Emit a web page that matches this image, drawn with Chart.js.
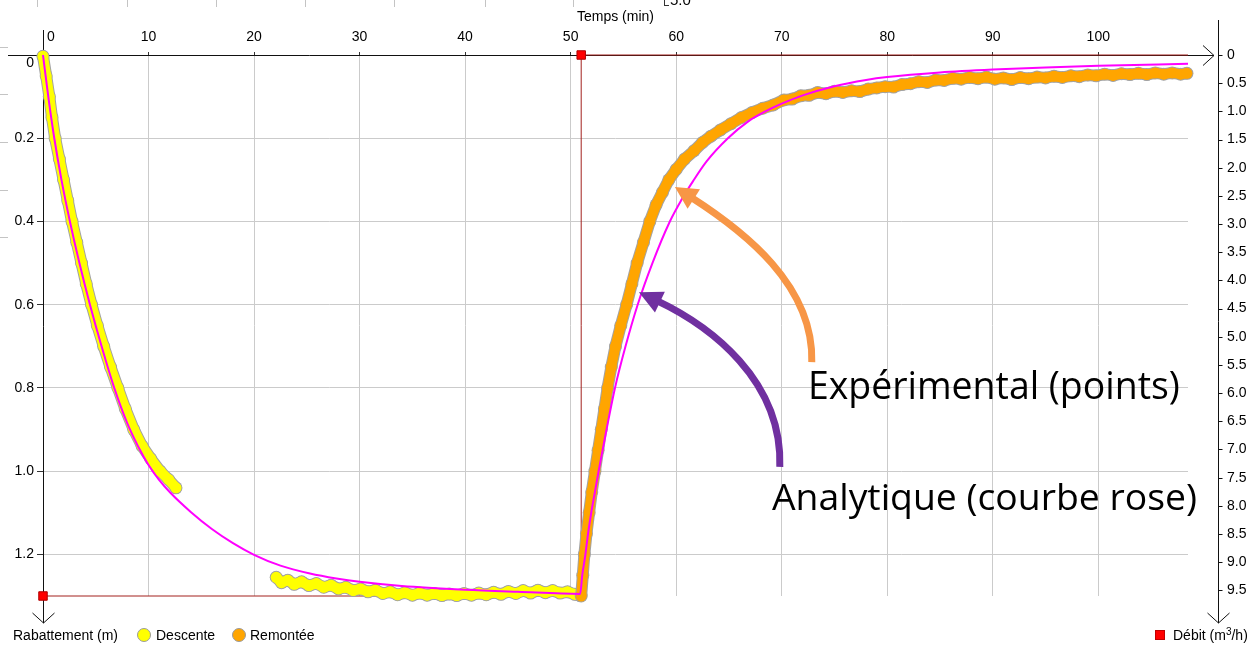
<!DOCTYPE html>
<html><head><meta charset="utf-8">
<script src="https://cdn.jsdelivr.net/npm/chart.js@4.4.1/dist/chart.umd.min.js"></script>
<style>
html,body{margin:0;padding:0;background:#fff;}
#wrap{position:relative;width:1255px;height:648px;overflow:hidden;font-family:"Liberation Sans",Arial,sans-serif;background:#fff;}
canvas{position:absolute;left:0;top:0;}
.lbl{position:absolute;font-size:14px;line-height:16px;color:#000;white-space:nowrap;}
.lbl sup{font-size:10px;line-height:0;vertical-align:5px;}
.dot{position:absolute;width:14px;height:14px;border-radius:50%;border:1px solid #9a9a9a;box-sizing:border-box;}
.sq{position:absolute;width:10px;height:10px;background:#ff0000;border:1px solid #c00000;box-sizing:border-box;}
.big{position:absolute;font-family:"Open Sans","Noto Sans",sans-serif;color:#000;white-space:nowrap;line-height:1;}
.art{position:absolute;background:#c4c4c4;}
</style></head><body>
<div id="wrap">
<canvas id="c" width="1255" height="648"></canvas>
<div class="art" style="left:37px;top:0;width:1px;height:7px"></div>
<div class="art" style="left:127px;top:0;width:1px;height:7px"></div>
<div class="art" style="left:216px;top:0;width:1px;height:7px"></div>
<div class="art" style="left:305px;top:0;width:1px;height:7px"></div>
<div class="art" style="left:394px;top:0;width:1px;height:7px"></div>
<div class="art" style="left:485px;top:0;width:1px;height:7px"></div>
<div class="art" style="left:573px;top:0;width:1px;height:7px"></div>
<div class="art" style="left:0;top:47px;width:8px;height:1px"></div>
<div class="art" style="left:0;top:94px;width:8px;height:1px"></div>
<div class="art" style="left:0;top:142px;width:8px;height:1px"></div>
<div class="art" style="left:0;top:190px;width:8px;height:1px"></div>
<div class="art" style="left:0;top:237px;width:8px;height:1px"></div>
<div style="position:absolute;left:664px;top:0;width:1px;height:6px;background:#333"></div>
<div style="position:absolute;left:664px;top:5px;width:5px;height:1px;background:#333"></div>
<div class="lbl" style="left:670px;top:-8px;font-size:15px;">5.0</div>

<div class="lbl" style="left:13px;top:627px">Rabattement (m)</div>
<div class="dot" style="left:137px;top:628px;background:#FFFF00"></div>
<div class="lbl" style="left:156px;top:627px">Descente</div>
<div class="dot" style="left:232px;top:628px;background:#FFA500"></div>
<div class="lbl" style="left:250px;top:627px">Remontée</div>
<div class="sq" style="left:1155px;top:630px"></div>
<div class="lbl" style="left:1173px;top:627px">Débit (m<sup>3</sup>/h)</div>

<div class="big" id="t1"><span class="t">Expérimental (points)</span><span class="b" style="display:inline-block;width:0;height:0"></span></div>
<div class="big" id="t2"><span class="t">Analytique (courbe rose)</span><span class="b" style="display:inline-block;width:0;height:0"></span></div>
</div>
<script>
// ---------- data (time in min, drawdown in m, flow in m3/h) ----------
const xTicks = [0,10,20,30,40,50,60,70,80,90,100];
const yTicks = [0,0.2,0.4,0.6,0.8,1.0,1.2];
const y2Ticks = [0,0.5,1.0,1.5,2.0,2.5,3.0,3.5,4.0,4.5,5.0,5.5,6.0,6.5,7.0,7.5,8.0,8.5,9.0,9.5];

const descente1 = [[0,0.003],[0.3,0.05],[0.6,0.1],[0.85,0.15],[1.15,0.2],[1.55,0.25],[1.95,0.3],[2.35,0.35],[2.75,0.4],[3.2,0.45],[3.65,0.5],[4.1,0.55],[4.6,0.6],[5.15,0.65],[5.75,0.7],[6.4,0.75],[7.1,0.8],[7.8,0.85],[8.6,0.9],[9.4,0.94],[10.2,0.97],[11.1,1.0],[11.9,1.02],[12.6,1.04]];
const descente2 = [[22.1,1.255],[22.6,1.268],[23.2,1.262],[23.8,1.272],[24.5,1.266],[25.2,1.275],[25.9,1.27],[26.6,1.279],[27.3,1.274],[28.0,1.283],[28.7,1.279],[29.4,1.287],[30.1,1.283],[30.8,1.29],[31.5,1.286],[32.2,1.294],[32.9,1.29],[33.6,1.297],[34.3,1.292],[35.0,1.298],[35.7,1.293],[36.4,1.298],[37.1,1.294],[37.8,1.299],[38.5,1.295],[39.2,1.299],[39.9,1.294],[40.6,1.298],[41.3,1.293],[42.0,1.297],[42.7,1.291],[43.4,1.296],[44.1,1.289],[44.8,1.294],[45.5,1.287],[46.2,1.293],[46.9,1.286],[47.6,1.292],[48.3,1.287],[49.0,1.293],[49.7,1.29],[50.4,1.296],[50.9,1.299]];
const remontee = [[51.0,1.30],[51.15,1.25],[51.3,1.2],[51.5,1.15],[51.75,1.1],[52.0,1.05],[52.3,1.0],[52.6,0.95],[52.9,0.9],[53.2,0.85],[53.5,0.8],[53.85,0.75],[54.25,0.7],[54.75,0.65],[55.3,0.6],[55.8,0.55],[56.3,0.5],[56.9,0.45],[57.5,0.4],[58.1,0.36],[58.7,0.33],[59.3,0.3],[60.0,0.275],[60.8,0.25],[61.7,0.23],[62.5,0.21],[63.3,0.195],[64.2,0.18],[65.2,0.165],[66.2,0.15],[67.2,0.138],[68.2,0.128],[69.2,0.12],[70.2,0.108],[71.0,0.106],[71.8,0.098],[72.6,0.097],[73.4,0.09],[74.2,0.093],[75.0,0.087],[75.8,0.09],[76.6,0.086],[77.4,0.088],[78.2,0.082],[79.0,0.079],[79.8,0.076],[80.6,0.077],[81.4,0.071],[82.2,0.069],[83.0,0.064],[83.8,0.066],[84.6,0.06],[85.4,0.061],[86.2,0.056],[87.0,0.058],[87.8,0.054],[88.6,0.057],[89.4,0.053],[90.2,0.058],[91.0,0.055],[91.8,0.059],[92.6,0.054],[93.4,0.057],[94.2,0.053],[95.0,0.055],[95.8,0.051],[96.6,0.054],[97.4,0.05],[98.2,0.052],[99.0,0.048],[99.8,0.05],[100.6,0.046],[101.4,0.049],[102.2,0.045],[103.0,0.047],[103.8,0.044],[104.6,0.047],[105.4,0.043],[106.2,0.046],[107.0,0.043],[107.8,0.046],[108.4,0.044]];
const analytique = [[0,0],[0.5,0.1],[1.07,0.2],[1.75,0.3],[2.55,0.4],[3.45,0.5],[4.45,0.6],[5.55,0.7],[6.75,0.8],[8,0.886],[9,0.94],[10,0.985],[11,1.021],[12.07,1.052],[14,1.098],[16,1.139],[18,1.173],[20,1.201],[22.5,1.227],[25.3,1.246],[27.8,1.258],[30,1.266],[34,1.276],[40,1.285],[45,1.29],[50.9,1.295],[51.1,1.25],[51.4,1.2],[51.65,1.15],[51.95,1.1],[52.3,1.05],[52.65,1.0],[53.4,0.9],[54.2,0.8],[55.2,0.7],[56.35,0.6],[57.75,0.5],[59.4,0.4],[60.5,0.348],[61.6,0.303],[62.9,0.255],[64.9,0.2],[66.8,0.16],[68.5,0.135],[70,0.117],[72,0.097],[75,0.075],[78,0.06],[80,0.053],[85,0.042],[90,0.035],[95,0.03],[100,0.026],[108.5,0.021]];
const debitT = [0, 51, 108.5];
const debitQ = [9.6, 0, 0];

// annotation arrows, in data coordinates (t, s): bezier tail, ctrl1, ctrl2, head base; then tip
const arrowNotes = [
  {color:'#F79646', curve:[[72.85,0.738],[73.06,0.553],[66.41,0.423],[61.67,0.346]], tip:[59.88,0.317]},
  {color:'#7030A0', curve:[[69.82,0.99],[70.1,0.781],[63.2,0.651],[58.46,0.594]], tip:[56.47,0.570]}
];

// ---------- build ----------
const toXY = a => a.map(p => ({x:p[0], y:p[1]}));
const descData = [...toXY(descente1), {x:17, y:null}, ...toXY(descente2)];
const remData = toXY(remontee);
const anaData = toXY(analytique);
const debitData = debitT.map((t,i) => ({x:t, y:debitQ[i]}));

const OUTLINE = '#a3a3a3';
function band(label, data, color, order) {
  return {label, data, borderColor:color, backgroundColor:color, pointBackgroundColor:color,
    borderWidth:10, pointRadius:5.5, pointBorderWidth:0, pointHoverRadius:5.5,
    borderCapStyle:'round', borderJoinStyle:'round', spanGaps:false, clip:false, order, fill:false};
}
function bandOutline(data, order) {
  return {label:'_o', data, borderColor:OUTLINE, backgroundColor:OUTLINE, pointBackgroundColor:OUTLINE,
    borderWidth:12, pointRadius:6.5, pointBorderWidth:0, pointHoverRadius:6.5,
    borderCapStyle:'round', borderJoinStyle:'round', spanGaps:false, clip:false, order, fill:false};
}

const axesPlugin = {
  id:'axesPlugin',
  beforeDatasetsDraw(chart) {
    const {ctx, chartArea:ca, scales:{x, y, y2}} = chart;
    const x0 = Math.round(x.getPixelForValue(0)) + 0.5;
    const yTop = Math.round(y.getPixelForValue(0)) + 0.5;
    const xr = Math.round(ca.right + 30) + 0.5;
    const bottomTip = ca.bottom + 27;
    const rightTip = ca.right + 26;
    ctx.save();
    ctx.strokeStyle = '#111';
    ctx.lineWidth = 1;
    ctx.beginPath();
    ctx.moveTo(8, yTop); ctx.lineTo(rightTip, yTop);
    ctx.moveTo(rightTip - 11, yTop - 10); ctx.lineTo(rightTip, yTop); ctx.lineTo(rightTip - 11, yTop + 10);
    ctx.moveTo(x0, 30); ctx.lineTo(x0, bottomTip);
    ctx.moveTo(x0 - 11, bottomTip - 10); ctx.lineTo(x0, bottomTip); ctx.lineTo(x0 + 11, bottomTip - 10);
    ctx.moveTo(xr, 20); ctx.lineTo(xr, bottomTip);
    ctx.moveTo(xr - 11, bottomTip - 10); ctx.lineTo(xr, bottomTip); ctx.lineTo(xr + 11, bottomTip - 10);
    y2Ticks.forEach(v => {
      const py = Math.round(y2.getPixelForValue(v)) + 0.5;
      ctx.moveTo(xr, py); ctx.lineTo(xr + 4, py);
    });
    ctx.stroke();
    ctx.restore();
  }
};

const arrowPlugin = {
  id:'arrowPlugin',
  afterDatasetsDraw(chart) {
    const {ctx, scales:{x, y}} = chart;
    const P = p => [x.getPixelForValue(p[0]), y.getPixelForValue(p[1])];
    ctx.save();
    arrowNotes.forEach(a => {
      const c = a.curve.map(P);
      const tip = P(a.tip);
      ctx.strokeStyle = a.color; ctx.fillStyle = a.color;
      ctx.lineWidth = 7; ctx.lineCap = 'butt';
      ctx.beginPath();
      ctx.moveTo(c[0][0], c[0][1]);
      ctx.bezierCurveTo(c[1][0], c[1][1], c[2][0], c[2][1], c[3][0] + (c[3][0]-tip[0])*-0.15, c[3][1] + (c[3][1]-tip[1])*-0.15);
      ctx.stroke();
      const dx = tip[0] - c[3][0], dy = tip[1] - c[3][1];
      const len = Math.hypot(dx, dy);
      const nx = -dy/len, ny = dx/len, hw = 11.5;
      ctx.beginPath();
      ctx.moveTo(tip[0], tip[1]);
      ctx.lineTo(c[3][0] + nx*hw, c[3][1] + ny*hw);
      ctx.lineTo(c[3][0] - nx*hw, c[3][1] - ny*hw);
      ctx.closePath();
      ctx.fill();
    });
    ctx.restore();
  }
};

const FONT = {family:'"Liberation Sans", Arial, sans-serif', size:14};
const GRID = '#cbcbcb';

new Chart(document.getElementById('c'), {
  type:'line',
  data:{datasets:[
    {label:'Analytique', data:anaData, borderColor:'#FF00FF', borderWidth:2, pointRadius:0, pointHoverRadius:0,
      cubicInterpolationMode:'monotone', clip:false, order:1, fill:false},
    band('Remontée', remData, '#FFA500', 2),
    bandOutline(remData, 3),
    band('Descente', descData, '#FFFF00', 4),
    bandOutline(descData, 5),
    {label:'Débit (m³/h)', data:debitData, yAxisID:'y2', stepped:'before', borderColor:'#A3201D', borderWidth:1,
      pointStyle:'rect', pointRadius:[6,6,0], pointHoverRadius:[6,6,0], pointBackgroundColor:'#FF0000',
      pointBorderColor:'#B00000', pointBorderWidth:1, clip:false, order:6, fill:false}
  ]},
  options:{
    responsive:false, animation:false, events:[],
    layout:{padding:{left:0, right:0, top:0, bottom:52}},
    plugins:{legend:{display:false}, tooltip:{enabled:false}},
    scales:{
      x:{type:'linear', position:'top', min:0, max:108.5,
        grid:{color:GRID, lineWidth:1, tickLength:3, tickColor:'#333'},
        border:{display:false},
        ticks:{font:FONT, color:'#000', padding:6, maxRotation:0, autoSkip:false,
          callback:v => v === 0 ? '    0' : String(v)},
        title:{display:true, text:'Temps (min)', font:FONT, color:'#000', padding:{top:9, bottom:0}},
        afterBuildTicks:s => { s.ticks = xTicks.map(v => ({value:v})); },
        afterFit:s => { s.height = 55; }
      },
      y:{type:'linear', position:'left', reverse:true, min:0, max:1.3,
        grid:{color:GRID, lineWidth:1, tickLength:6, tickColor:'#333'},
        border:{display:false},
        ticks:{font:FONT, color:'#000', padding:3, autoSkip:false,
          callback:v => v === 0 ? ['', '0'] : v.toFixed(1)},
        afterBuildTicks:s => { s.ticks = yTicks.map(v => ({value:v})); },
        afterFit:s => { s.width = 43; }
      },
      y2:{type:'linear', position:'right', reverse:true, min:0, max:9.6,
        grid:{display:false, drawTicks:false, drawOnChartArea:false},
        border:{display:false},
        ticks:{font:{...FONT, lineHeight:1}, color:'#000', padding:39, autoSkip:false,
          callback:v => v === 0 ? '0' : v.toFixed(1)},
        afterBuildTicks:s => { s.ticks = y2Ticks.map(v => ({value:v})); },
        afterFit:s => { s.width = 67; }
      }
    }
  },
  plugins:[axesPlugin, arrowPlugin]
});

function fitText(id, left, baseline, width) {
  const el = document.getElementById(id);
  el.style.left = left + 'px'; el.style.top = '0px';
  el.style.fontSize = '100px';
  const w = el.querySelector('.t').getBoundingClientRect().width;
  el.style.fontSize = (100 * width / w) + 'px';
  const off = el.querySelector('.b').getBoundingClientRect().top - el.getBoundingClientRect().top;
  el.style.top = (baseline - off) + 'px';
}
function placeAll() {
  fitText('t1', 808, 399, 372);
  fitText('t2', 772, 510, 425);
}
placeAll();
if (document.fonts && document.fonts.ready) document.fonts.ready.then(placeAll);
</script>
</body></html>
